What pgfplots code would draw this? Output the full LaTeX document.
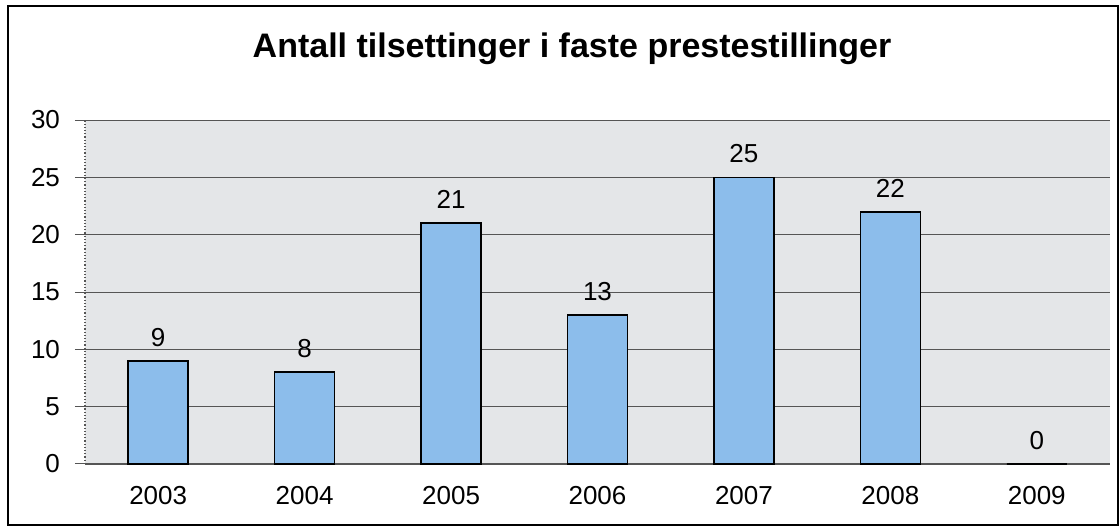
\documentclass[border=0pt]{standalone}
\usepackage{pgfplots}
\pgfplotsset{compat=1.18}
\usepackage{fontspec}
\setmainfont{Liberation Sans}
\definecolor{plotbg}{HTML}{E4E6E8}
\definecolor{barblue}{HTML}{8CBDEB}
\definecolor{gridc}{HTML}{555555}
\begin{document}
\begin{tikzpicture}[x=1pt,y=1pt]
\useasboundingbox (-42.5,-33) rectangle (517.5,232);
\draw[line width=1.2pt] (-38.5,-30.5) rectangle (516.5,229);
\node[font=\bfseries\fontsize{17}{20}\selectfont] at (243.5,207.5) {Antall tilsettinger i faste prestestillinger};
\begin{axis}[
  at={(0,0)}, anchor=south west,
  scale only axis,
  width=512.5pt, height=172pt,
  xmin=-0.5, xmax=6.5,
  ymin=0, ymax=30,
  ytick={0,5,...,30},
  xtick={0,...,6},
  xticklabels={2003,2004,2005,2006,2007,2008,2009},
  axis background/.style={fill=plotbg},
  axis line style={draw=none},
  ymajorgrids,
  grid style={gridc, line width=0.5pt},
  major tick length=5pt,
  ytick style={gridc, line width=0.5pt},
  xtick style={draw=none},
  tick align=outside,
  tick pos=left,
  tick label style={font=\fontsize{13}{15}\selectfont},
  /pgf/number format/assume math mode=true,
  yticklabel style={xshift=-4pt},
  xticklabel style={yshift=-2.5pt},
  clip=false,
]
\draw[gridc, densely dotted, line width=0.6pt] (axis cs:-0.5,0) -- (axis cs:-0.5,30);
\draw[gridc, line width=0.6pt] (axis cs:-0.5,0) -- (axis cs:6.5,0);
\addplot[ybar, bar width=30pt, fill=barblue, draw=black, line width=0.8pt,
  nodes near coords,
  every node near coord/.append style={font=\fontsize{13}{15}\selectfont, yshift=3.5pt},
  /pgf/number format/assume math mode=true]
  coordinates {(0,9) (1,8) (2,21) (3,13) (4,25) (5,22) (6,0)};
\end{axis}
\end{tikzpicture}
\end{document}
